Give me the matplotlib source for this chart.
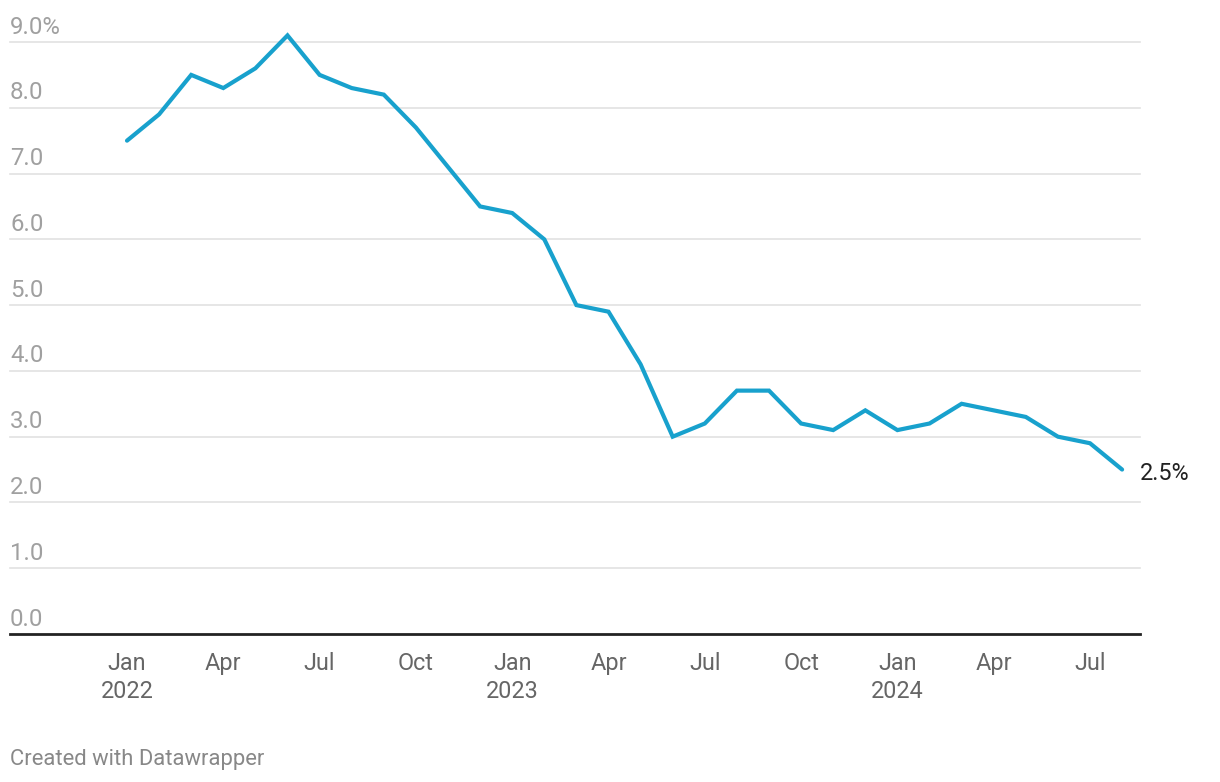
import matplotlib.pyplot as plt

plt.rcParams['font.family'] = ['Roboto', 'DejaVu Sans']

# monthly values, Jan 2022 - Aug 2024
months = ['2022-01', '2022-02', '2022-03', '2022-04', '2022-05', '2022-06',
          '2022-07', '2022-08', '2022-09', '2022-10', '2022-11', '2022-12',
          '2023-01', '2023-02', '2023-03', '2023-04', '2023-05', '2023-06',
          '2023-07', '2023-08', '2023-09', '2023-10', '2023-11', '2023-12',
          '2024-01', '2024-02', '2024-03', '2024-04', '2024-05', '2024-06',
          '2024-07', '2024-08']
values = [7.5, 7.9, 8.5, 8.3, 8.6, 9.1, 8.5, 8.3, 8.2, 7.7, 7.1, 6.5,
          6.4, 6.0, 5.0, 4.9, 4.1, 3.0, 3.2, 3.7, 3.7, 3.2, 3.1, 3.4,
          3.1, 3.2, 3.5, 3.4, 3.3, 3.0, 2.9, 2.5]
y_ticks = [0, 1, 2, 3, 4, 5, 6, 7, 8, 9]
y_labels = ['0.0', '1.0', '2.0', '3.0', '4.0', '5.0', '6.0', '7.0', '8.0', '9.0%']
x_tick_pos = [0, 3, 6, 9, 12, 15, 18, 21, 24, 27, 30]
x_tick_labels = ['Jan\n2022', 'Apr', 'Jul', 'Oct', 'Jan\n2023', 'Apr', 'Jul', 'Oct',
                 'Jan\n2024', 'Apr', 'Jul']

W, H = 1220, 782
fig = plt.figure(figsize=(W / 100, H / 100), dpi=100)
left, right, top, bottom = 10, 1140, 42, 634
ax = fig.add_axes([left / W, 1 - bottom / H, (right - left) / W, (bottom - top) / H])

xs = list(range(len(values)))
ax.plot(xs, values, color='#18a1cd', lw=3, solid_joinstyle='miter',
        solid_capstyle='round', clip_on=False, zorder=3)

ax.set_ylim(0, 9)
px_per_month = 32.1
x0 = -(127 - left) / px_per_month
ax.set_xlim(x0, x0 + (right - left) / px_per_month)

for t in y_ticks:
    if t == 0:
        ax.axhline(t, color='#222222', lw=2, zorder=4, clip_on=False)
    else:
        ax.axhline(t, color='#e2e2e2', lw=1.2, zorder=1, clip_on=False)
    ax.annotate(y_labels[y_ticks.index(t)], xy=(0, t), xycoords=('axes fraction', 'data'),
                xytext=(0, 2.5), textcoords='offset points', ha='left', va='bottom',
                fontsize=17.3, color='#a0a0a0')

for s in ax.spines.values():
    s.set_visible(False)
ax.set_yticks([])
ax.set_xticks(x_tick_pos)
ax.set_xticklabels(x_tick_labels, fontsize=16.8, color='#666666', linespacing=1.3)
ax.tick_params(axis='x', length=0, pad=13)

ax.annotate(f'{values[-1]:.1f}%', xy=(xs[-1], values[-1]), xytext=(13, -3),
            textcoords='offset points', ha='left', va='center',
            fontsize=16.8, color='#222222', annotation_clip=False)

fig.text(10 / W, 1 - 760 / H, 'Created with Datawrapper', ha='left', va='center',
         fontsize=15.8, color='#888888')

fig.savefig('out.png', dpi=100)
